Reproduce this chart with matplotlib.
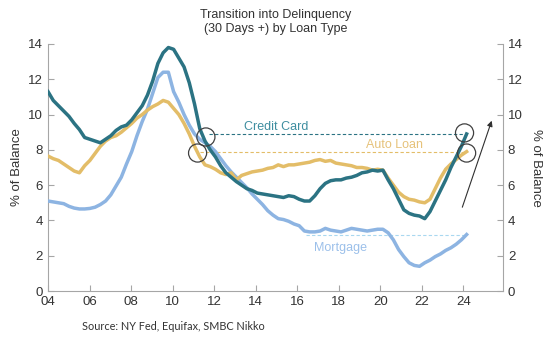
import numpy as np
import matplotlib.pyplot as plt

# --- Datos trimestrales 2004Q1 - 2024Q1 (% del saldo) ---
credit_card = [11.3, 10.8, 10.5, 10.2, 9.9, 9.5, 9.15, 8.7, 8.6, 8.5, 8.4, 8.6,
               8.8, 9.1, 9.3, 9.4, 9.7, 10.1, 10.5, 11.1, 11.9, 12.9, 13.5, 13.8,
               13.7, 13.2, 12.7, 11.8, 10.6, 9.2, 8.5, 8.0, 7.6, 7.1, 6.7, 6.45,
               6.2, 6.0, 5.8, 5.7, 5.55, 5.5, 5.45, 5.4, 5.35, 5.3, 5.4, 5.35,
               5.2, 5.1, 5.1, 5.4, 5.8, 6.1, 6.25, 6.3, 6.3, 6.4, 6.45, 6.55,
               6.7, 6.75, 6.85, 6.8, 6.85, 6.3, 5.8, 5.2, 4.6, 4.4, 4.3, 4.25,
               4.1, 4.5, 5.1, 5.7, 6.3, 7.0, 7.6, 8.2, 8.9]
auto_loan = [7.65, 7.5, 7.4, 7.2, 7.0, 6.8, 6.7, 7.1, 7.4, 7.8, 8.2, 8.5,
             8.7, 8.8, 9.0, 9.25, 9.5, 9.8, 10.0, 10.25, 10.45, 10.6, 10.8, 10.7,
             10.35, 10.0, 9.5, 8.9, 8.2, 7.6, 7.15, 7.05, 6.9, 6.7, 6.6, 6.7,
             6.3, 6.55, 6.65, 6.75, 6.8, 6.85, 6.95, 7.0, 7.15, 7.05, 7.15, 7.15,
             7.2, 7.25, 7.3, 7.4, 7.45, 7.35, 7.4, 7.25, 7.2, 7.15, 7.1, 7.0,
             7.0, 6.95, 6.85, 6.9, 6.85, 6.4, 6.0, 5.6, 5.35, 5.2, 5.15, 5.05,
             5.0, 5.2, 5.8, 6.4, 6.9, 7.2, 7.45, 7.7, 7.9]
mortgage = [5.1, 5.05, 5.0, 4.95, 4.8, 4.7, 4.65, 4.65, 4.68, 4.75, 4.9, 5.1,
            5.45, 5.95, 6.45, 7.2, 7.9, 8.8, 9.6, 10.3, 11.2, 12.1, 12.4, 12.4,
            11.3, 10.7, 10.0, 9.4, 8.9, 8.6, 8.4, 8.2, 7.9, 7.5, 7.1, 6.75,
            6.45, 6.15, 5.85, 5.5, 5.2, 4.9, 4.55, 4.3, 4.1, 4.05, 3.95, 3.8,
            3.7, 3.4, 3.35, 3.35, 3.4, 3.55, 3.45, 3.4, 3.35, 3.45, 3.55, 3.5,
            3.45, 3.4, 3.45, 3.5, 3.5, 3.3, 2.9, 2.35, 1.95, 1.6, 1.45, 1.4,
            1.6, 1.75, 1.95, 2.1, 2.3, 2.45, 2.65, 2.9, 3.2]

years = np.linspace(2004, 2024.15, len(credit_card))
x_ticks = list(range(2004, 2025, 2))
x_labels = [f"{y % 100:02d}" for y in x_ticks]
y_ticks = list(range(0, 15, 2))

c_cc = "#2b7383"
c_al = "#e3bd68"
c_mg = "#8db4e2"
gris = "#a6a6a6"

plt.rcParams['font.family'] = ['Liberation Sans', 'DejaVu Sans']

fig = plt.figure(figsize=(5.57, 3.41), dpi=100)
ax = fig.add_axes([0.0862, 0.1466, 0.8168, 0.7244])

ax.plot(years, mortgage, color=c_mg, lw=2.5, zorder=3)
ax.plot(years, auto_loan, color=c_al, lw=2.5, zorder=4)
ax.plot(years, credit_card, color=c_cc, lw=2.5, zorder=5)

# --- Líneas punteadas de referencia ---
ax.plot([2011.75, 2024.05], [credit_card[-1]] * 2, ls='--', lw=0.8, color=c_cc, dashes=(3, 2))
ax.plot([2011.3, 2024.1], [auto_loan[-1]] * 2, ls='--', lw=0.8, color=c_al, dashes=(3, 2))
ax.plot([2016.4, 2024.1], [mortgage[-1]] * 2, ls='--', lw=0.8, color="#a9d8f0", dashes=(3, 2))

ax.text(2015.0, 9.3, "Credit Card", color="#3f8ea0", fontsize=9, ha='center', va='center')
ax.text(2020.7, 8.3, "Auto Loan", color="#e6c27a", fontsize=9, ha='center', va='center')
ax.text(2018.1, 2.45, "Mortgage", color="#9cc0ea", fontsize=9, ha='center', va='center')

# --- Círculos ---
ax.scatter([2011.6, 2011.2, 2024.05, 2024.15], [8.73, 7.82, 8.96, 7.82], s=170,
           facecolors='none', edgecolors='#404040', linewidths=0.9, zorder=6)

# --- Flecha ---
ax.annotate("", xy=(2025.4, 9.8), xytext=(2023.9, 4.6),
            arrowprops=dict(arrowstyle='-|>', color='#303030', lw=0.8, mutation_scale=8))

ax.set_xlim(2004, 2025.9)
ax.set_ylim(0, 14)
ax.set_xticks(x_ticks)
ax.set_xticklabels(x_labels)
ax.set_yticks(y_ticks)
ax.set_ylabel("% of Balance", fontsize=9.5, color='#333333')

ax2 = ax.twinx()
ax2.set_ylim(0, 14)
ax2.set_yticks(y_ticks)
ax2.set_ylabel("% of Balance", fontsize=9.5, color='#333333', rotation=270, labelpad=14)

for a in (ax, ax2):
    a.spines['top'].set_visible(False)
    for s in ('left', 'right', 'bottom'):
        a.spines[s].set_color(gris)
    a.tick_params(direction='in', length=4, color=gris, labelsize=9.5, labelcolor='#333333')
ax.spines['right'].set_visible(False)
ax2.spines['left'].set_visible(False)
ax2.spines['bottom'].set_visible(False)

fig.text(0.495, 0.935, "Transition into Delinquency\n(30 Days +) by Loan Type",
         ha='center', va='center', fontsize=9, color='#333333', linespacing=1.2)
fig.text(0.147, 0.032, "Source: NY Fed, Equifax, SMBC Nikko", fontsize=7.8,
         color='#333333', family=['Lato', 'DejaVu Sans'])

fig.savefig("out.png", dpi=100)
